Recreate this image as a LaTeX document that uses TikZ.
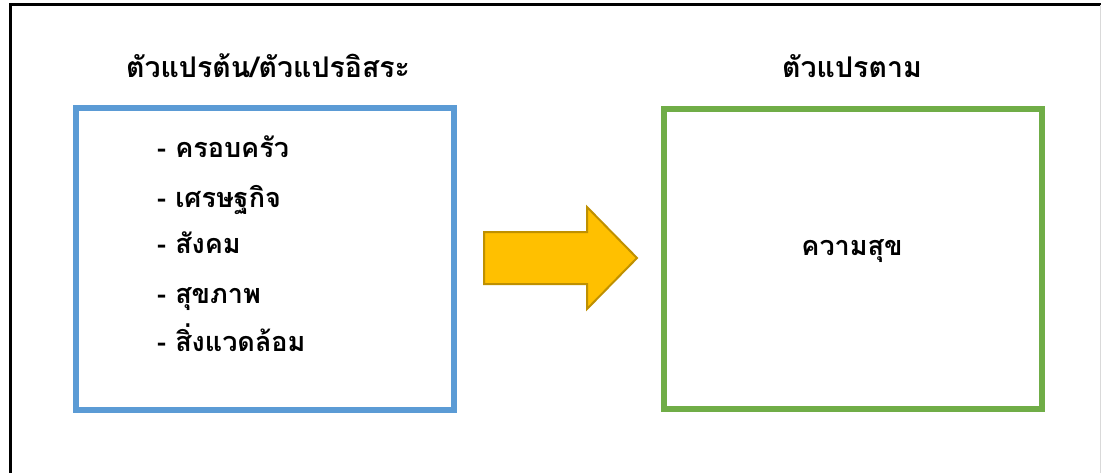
\documentclass[tikz,border=0pt]{standalone}
\usepackage{fontspec}
\newfontfamily\thaifont[Script=Thai]{Loma}
\definecolor{bluebox}{HTML}{5B9BD5}
\definecolor{greenbox}{HTML}{70AD47}
\definecolor{arrowfill}{HTML}{FFC000}
\definecolor{arrowdraw}{HTML}{BF9000}
\tikzset{
  frame/.style={draw=black, line width=2.8pt},
  varbox/.style={line width=6pt, fill=white, inner sep=0pt},
  title/.style={font=\thaifont\bfseries\fontsize{28.5}{32}\selectfont, inner sep=0pt, anchor=base},
  item/.style={font=\thaifont\bfseries\fontsize{27}{30}\selectfont, anchor=base west, inner sep=0pt},
}
\begin{document}
\begin{tikzpicture}[x=1pt, y=-1pt]
\useasboundingbox (0,0) rectangle (1101,472);
\fill[white] (0,0) rectangle (1101,472);
% outer frame (extends beyond the bottom)
\draw[frame] (10.5,480) -- (10.5,4.7) -- (1110,4.7);
\draw[black!15, line width=1pt] (1100.5,4.7) -- (1100.5,480);
% boxes
\draw[varbox, draw=bluebox] (75.5,108) rectangle (453.5,410);
\draw[varbox, draw=greenbox] (664,109) rectangle (1042,409);
\node[title] (t1) at (268,77) {ตัวแปรต้น/ตัวแปรอิสระ};
\node[title] (t2) at (852,77) {ตัวแปรตาม};
% list
\node[item] (i1) at (157,157) {- ครอบครัว};
\node[item] (i2) at (157,207) {- เศรษฐกิจ};
\node[item] (i3) at (157,253) {- สังคม};
\node[item] (i4) at (157,303) {- สุขภาพ};
\node[item] (i5) at (157,351) {- สิ่งแวดล้อม};
\node[item, anchor=base] (res) at (852,255) {ความสุข};
% block arrow
\draw[fill=arrowfill, draw=arrowdraw, line width=2pt, line join=miter]
  (484,232) -- (587,232) -- (587,207) -- (637,258) -- (587,309) -- (587,284) -- (484,284) -- cycle;
\end{tikzpicture}
\end{document}
